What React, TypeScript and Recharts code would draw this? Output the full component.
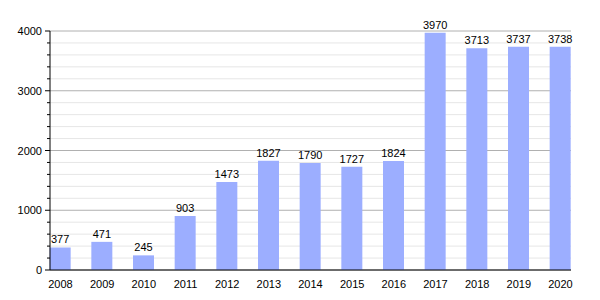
import { BarChart, Bar, XAxis, YAxis, CartesianGrid, LabelList } from 'recharts';

const years = [2008, 2009, 2010, 2011, 2012, 2013, 2014, 2015, 2016, 2017, 2018, 2019, 2020];
const counts = [377, 471, 245, 903, 1473, 1827, 1790, 1727, 1824, 3970, 3713, 3737, 3738];
const yTicks = [
  0, 200, 400, 600, 800, 1000, 1200, 1400, 1600, 1800, 2000,
  2200, 2400, 2600, 2800, 3000, 3200, 3400, 3600, 3800, 4000,
];

const chartData = years.map((year, i) => ({ year, count: counts[i] }));

const font = '"Liberation Sans", Arial, sans-serif';

// draws minor/major tick marks on the y axis, labels only on the thousands
const YTick = (props: any) => {
  const { x, y, payload } = props;
  const major = payload.value % 1000 === 0;
  return (
    <g>
      <line x1={x - (major ? 5 : 3)} y1={y} x2={x} y2={y} stroke="#000" />
      {major && (
        <text x={x - 8} y={y} dy={4} textAnchor="end" fontSize={11} fontFamily={font} fill="#000">
          {payload.value}
        </text>
      )}
    </g>
  );
};

// grid line: darker on every 1000, light on the 200 steps
const GridLine = (props: any) => {
  const { x1, y1, x2, y2, index } = props;
  const major = index % 5 === 0;
  return <line x1={x1} y1={y1} x2={x2} y2={y2} stroke={major ? '#b0b0b0' : '#e6e6e6'} strokeWidth={1} />;
};

const App = () => {
  return (
    <div style={{ position: 'absolute', left: 0, top: 0, width: 600, height: 300, background: '#fff' }}>
      <BarChart
        width={600}
        height={300}
        data={chartData}
        margin={{ top: 31, right: 29, bottom: 10, left: 0 }}
      >
        <CartesianGrid yAxisId="main" vertical={false} horizontal={(p: any) => <GridLine key={p.key} {...p} />} />
        <XAxis
          dataKey="year"
          type="number"
          domain={[2008, 2020]}
          ticks={years}
          padding={{ left: 10.5, right: 10.5 }}
          tickLine={false}
          axisLine={{ stroke: '#000' }}
          tick={{ fontSize: 11, fontFamily: font, fill: '#000' }}
          tickMargin={4}
          height={20}
          interval={0}
        />
        <YAxis
          yAxisId="main"
          width={50}
          domain={[0, 4000]}
          ticks={yTicks}
          interval={0}
          tickLine={false}
          tickSize={0}
          tickMargin={0}
          axisLine={{ stroke: '#000' }}
          tick={<YTick />}
        />
        <Bar yAxisId="main" dataKey="count" fill="#9caeff" barSize={21} isAnimationActive={false}>
          <LabelList dataKey="count" position="top" offset={4} fontSize={11} fontFamily={font} fill="#000" />
        </Bar>
      </BarChart>
    </div>
  );
};

export default App;
